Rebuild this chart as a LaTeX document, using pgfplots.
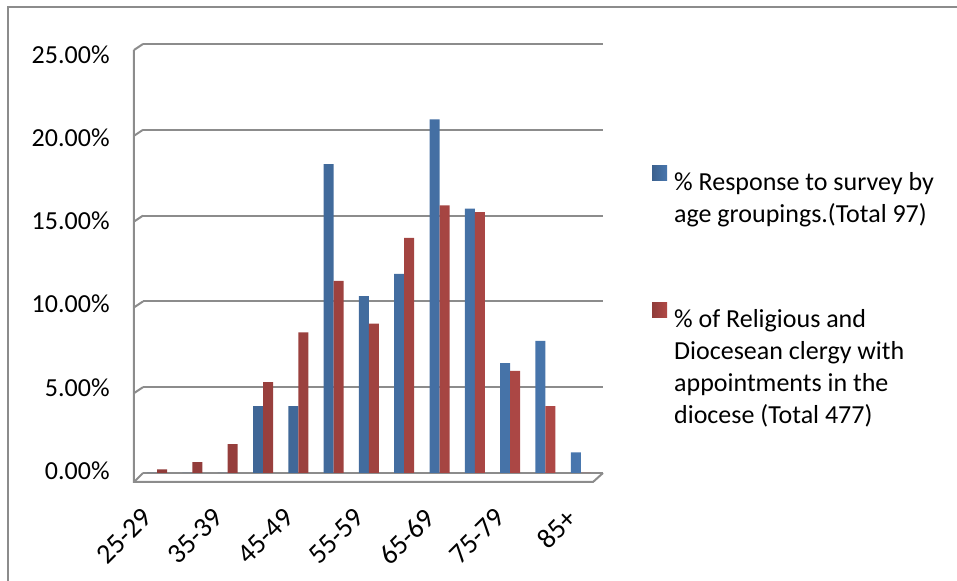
\documentclass[border=0pt]{standalone}
\usepackage{pgfplots}
\usepackage{pgfplotstable}
\pgfplotsset{compat=1.18}
\usepackage{fontspec}
\setmainfont{Carlito}

\definecolor{cblue}{HTML}{4F81BD}
\definecolor{cred}{HTML}{C0504D}
\definecolor{gridc}{HTML}{8C8C8C}

% age group index (0 = 25-29 ... 12 = 85+), survey %, clergy %
\pgfplotstableread{
idx resp clergy
0   0     0.21
1   0     0.63
2   0     1.68
3   3.9   5.3
4   3.9   8.2
5   18.0  11.2
6   10.3  8.7
7   11.6  13.7
8   20.6  15.6
9   15.4  15.2
10  6.4   5.95
11  7.7   3.9
12  1.2   0
}\agedata

\begin{document}
\fontsize{13}{16}\selectfont
\begin{tikzpicture}
\useasboundingbox (-71.5pt,-54pt) rectangle (407pt,236.5pt);
\draw[gridc, line width=0.8pt] (-67.5pt,-60pt) -- (-67.5pt,233pt) -- (420pt,233pt);

\begin{axis}[
	at={(0pt,0pt)}, anchor=south west,
	scale only axis,
	width=230pt, height=214.5pt,
	xmin=-0.4, xmax=12.63,
	ymin=0, ymax=25,
	clip=false,
	axis line style={draw=none},
	major tick length=0pt,
	ymajorgrids,
	grid style={gridc, line width=1pt},
	ytick={0,5,...,25},
	/pgf/number format/assume math mode=true,
	yticklabel={\pgfmathprintnumber[fixed,fixed zerofill,precision=2]{\tick}\%},
	yticklabel style={anchor=east, inner sep=0pt, xshift=-16.5pt, yshift=1.25pt-1.3pt*\ticknum},
	xtick={0,2,...,12},
	xticklabels={25-29,35-39,45-49,55-59,65-69,75-79,85+},
	xticklabel style={font=\fontsize{14}{16}\selectfont, rotate=45, anchor=north east,
		inner sep=0pt, xshift=-17.4pt, yshift=-6pt},
	ybar=0pt, bar width=5pt,
	legend cell align=left,
	legend style={draw=none, fill=none, at={(1.093,0.728)}, anchor=north west,
		row sep=54pt, column sep=3.5pt, nodes={inner sep=0pt}},
]
\addplot[draw=none, bar shift=-2.5pt,
	left color=cblue!75!black, middle color=cblue!80!white, right color=cblue!92!black,
	legend image code/.code={\fill[cblue] (0pt,0.5pt) rectangle (7.5pt,8pt);}]
	table[x=idx, y=resp] {\agedata};
\addlegendentry{\begin{tabular}[t]{@{}l@{}}\% Response to survey by\\age groupings.(Total 97)\end{tabular}}
\addplot[draw=none, bar shift=2.5pt,
	left color=cred!75!black, middle color=cred!80!white, right color=cred!92!black,
	legend image code/.code={\fill[cred] (0pt,0.5pt) rectangle (7.5pt,8pt);}]
	table[x=idx, y=clergy] {\agedata};
\addlegendentry{\begin{tabular}[t]{@{}l@{}}\% of Religious and\\Diocesean clergy with\\appointments in the\\diocese (Total 477)\end{tabular}}

% 3-D wall and floor edges
\pgfplotsinvokeforeach{5,10,15,20,25}{
	\draw[gridc, line width=1pt] (axis cs:-0.4,#1) -- ++(-4.5pt,-3pt);
}
\draw[gridc, line width=1pt] (axis cs:-0.4,25) ++(-4.5pt,-3pt)
	-- ([xshift=-4.5pt,yshift=-4.5pt]axis cs:-0.4,0)
	-- ([xshift=-5pt,yshift=-4.5pt]axis cs:12.63,0)
	-- (axis cs:12.63,0);
\draw[gridc, line width=1pt] (axis cs:-0.4,0) -- ++(-4.5pt,-4.5pt);
\end{axis}
\end{tikzpicture}
\end{document}
